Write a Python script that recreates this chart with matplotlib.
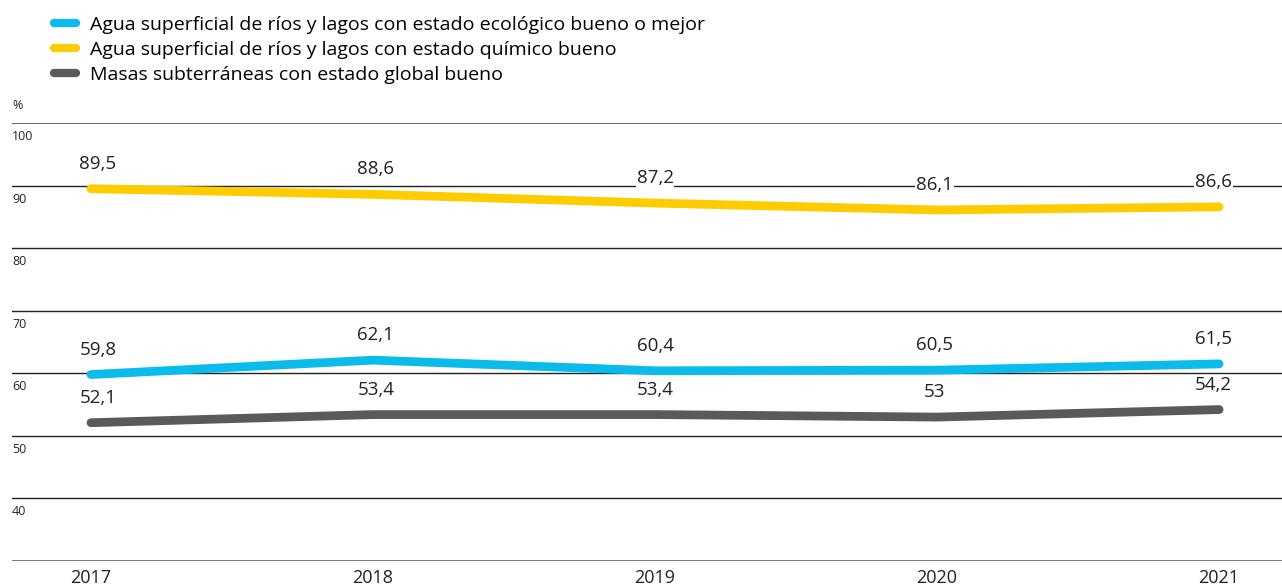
import matplotlib
matplotlib.use("Agg")
import matplotlib.pyplot as plt
from matplotlib.lines import Line2D

plt.rcParams['font.family'] = ['Open Sans', 'DejaVu Sans']

years = [2017, 2018, 2019, 2020, 2021]
eco = [59.8, 62.1, 60.4, 60.5, 61.5]
quim = [89.5, 88.6, 87.2, 86.1, 86.6]
subt = [52.1, 53.4, 53.4, 53.0, 54.2]
eco_lbl = ["59,8", "62,1", "60,4", "60,5", "61,5"]
quim_lbl = ["89,5", "88,6", "87,2", "86,1", "86,6"]
subt_lbl = ["52,1", "53,4", "53,4", "53", "54,2"]
series_names = ["Agua superficial de ríos y lagos con estado ecológico bueno o mejor",
                "Agua superficial de ríos y lagos con estado químico bueno",
                "Masas subterráneas con estado global bueno"]
colors = ["#0ABBEC", "#FFCC00", "#5A5A5A"]
yticks = [40, 50, 60, 70, 80, 90, 100]

W, H = 1282, 587
fig = plt.figure(figsize=(W/100, H/100), dpi=100)
ax = fig.add_axes([12/W, 1-561/H, 1-12/W, (561-123)/H])
ax.set_xlim(2016.72, 2021.223)
ax.set_ylim(30, 100)
for s in ax.spines.values():
    s.set_visible(False)
ax.set_xticks([]); ax.set_yticks([])

for y in yticks:
    lw = 1.3 if y == 100 else 1.0
    c = "#555555" if y == 100 else "#222222"
    ax.axhline(y, color=c, lw=lw, zorder=1)
    ax.annotate(str(y), xy=(0, y), xycoords=('axes fraction', 'data'),
                xytext=(0, -5), textcoords='offset points', ha='left', va='top',
                fontsize=9, color="#222222")
ax.axhline(30, color="#6E6E6E", lw=2.0, zorder=1)
ax.annotate("%", xy=(0, 100), xycoords=('axes fraction', 'data'),
            xytext=(0, 8), textcoords='offset points', ha='left', va='bottom',
            fontsize=9, color="#222222", annotation_clip=False)

# small inward shift of labels near the edges (points)
dx = [5, 2, 0, -2, -4]
for vals, lbls, col in [(quim, quim_lbl, colors[1]), (eco, eco_lbl, colors[0]), (subt, subt_lbl, colors[2])]:
    ax.plot(years, vals, color=col, lw=6.3, solid_capstyle='round', solid_joinstyle='round', zorder=3)
    for i, (x, v, l) in enumerate(zip(years, vals, lbls)):
        ax.annotate(l, xy=(x, v), xytext=(dx[i], 18), textcoords='offset points',
                    ha='center', va='center', fontsize=13.5, color="#222222", zorder=4,
                    bbox=dict(boxstyle='square,pad=0.05', fc='white', ec='none'))

for x in years:
    ax.annotate(str(x), xy=(x, 30), xytext=(0, -6), textcoords='offset points',
                ha='center', va='top', fontsize=13, color="#222222", annotation_clip=False)

handles = [Line2D([], [], color=c, lw=6, solid_capstyle='round') for c in colors]
fig.legend(handles, series_names, loc='upper left', bbox_to_anchor=(54/W, 1-16/H),
           frameon=False, fontsize=14, handlelength=1.13, handletextpad=0.72,
           labelspacing=0.36, borderaxespad=0, borderpad=0)

fig.savefig("out.png", dpi=100)
